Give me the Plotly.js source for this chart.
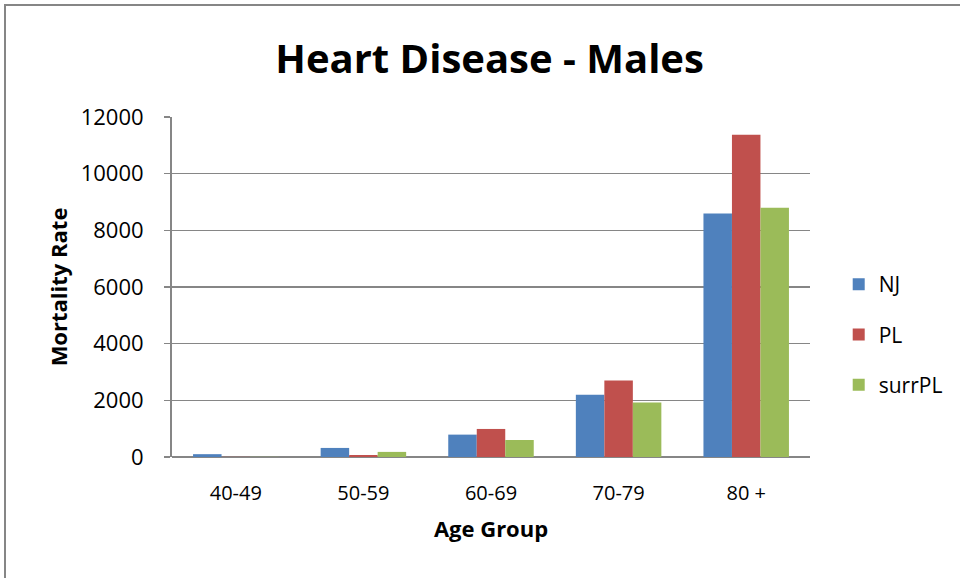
<!DOCTYPE html>
<html>
<head>
<meta charset="utf-8">
<script src="https://cdn.plot.ly/plotly-3.0.1.min.js"></script>
<style>
html,body{margin:0;padding:0;background:#fff;overflow:hidden;}
#chart{width:960px;height:578px;}
</style>
</head>
<body>
<div id="chart"></div>
<script>
const categories = ["40-49", "50-59", "60-69", "70-79", "80 +"];
const seriesNames = ["NJ", "PL", "surrPL"];
const njValues = [100, 320, 790, 2200, 8590];
const plValues = [5, 70, 990, 2700, 11370];
const surrPLValues = [5, 180, 600, 1920, 8800];
const yTickValues = [0, 2000, 4000, 6000, 8000, 10000, 12000];
const colors = ["#4F81BD", "#C0504D", "#9BBB59"];

const font = "Open Sans, Noto Sans, Liberation Sans, sans-serif";
const allValues = [njValues, plValues, surrPLValues];
const traces = seriesNames.map((name, i) => ({
  type: "bar",
  name: name,
  x: categories,
  y: allValues[i],
  legendgroup: name,
  marker: {color: colors[i], line: {width: 0}},
  hoverinfo: "x+y+name"
}));

// outer chart-area frame (left and top edges visible), in paper units of the plot area
const W = 960, H = 578, L = 172, R = 150, T = 117, B = 121;
const pw = W - L - R, ph = H - T - B;
const fx = (5 - L) / pw, fy = 1 + (T - 5) / ph;

const layout = {
  width: W, height: H,
  margin: {l: L, r: R, t: T, b: B},
  paper_bgcolor: "#fff", plot_bgcolor: "#fff",
  barmode: "group", bargap: 0.33, bargroupgap: 0,
  font: {family: font, color: "#000"},
  title: {text: "<b>Heart Disease - Males</b>", font: {size: 40, family: font, color: "#000"}, x: 0.51, xanchor: "center", y: 0.898, yanchor: "middle"},
  xaxis: {
    showline: false, showgrid: false,
    ticks: "outside", ticklen: 18, tickcolor: "rgba(0,0,0,0)",
    tickfont: {size: 20, color: "#000"},
    title: {text: "<b>Age Group</b>", font: {size: 22, color: "#000"}, standoff: 16}
  },
  yaxis: {
    range: [0, 12000], tickvals: yTickValues, ticktext: yTickValues.map(String),
    showline: true, linecolor: "#868686", linewidth: 2,
    ticks: "outside", ticklen: 6, tickcolor: "#868686", tickwidth: 1.5,
    ticklabelstandoff: 16,
    showgrid: true, gridcolor: "#868686", gridwidth: 1.6,
    zeroline: true, zerolinecolor: "#868686", zerolinewidth: 2,
    tickfont: {size: 22, color: "#000"},
    title: {text: "<b>Mortality Rate</b>", font: {size: 22, color: "#000"}, standoff: 7}
  },
  legend: {
    x: 1.045, xanchor: "left", y: 0.36, yanchor: "middle",
    font: {size: 21, color: "#000"},
    tracegroupgap: 20, itemwidth: 30,
    bgcolor: "rgba(0,0,0,0)"
  },
  shapes: [{
    type: "path", xref: "paper", yref: "paper",
    path: `M ${fx} -1 L ${fx} ${fy} L 3 ${fy}`,
    line: {color: "#868686", width: 2}, fillcolor: "rgba(0,0,0,0)", layer: "above"
  }],
  showlegend: true
};

Plotly.newPlot("chart", traces, layout, {displayModeBar: false, staticPlot: true});
</script>
</body>
</html>
